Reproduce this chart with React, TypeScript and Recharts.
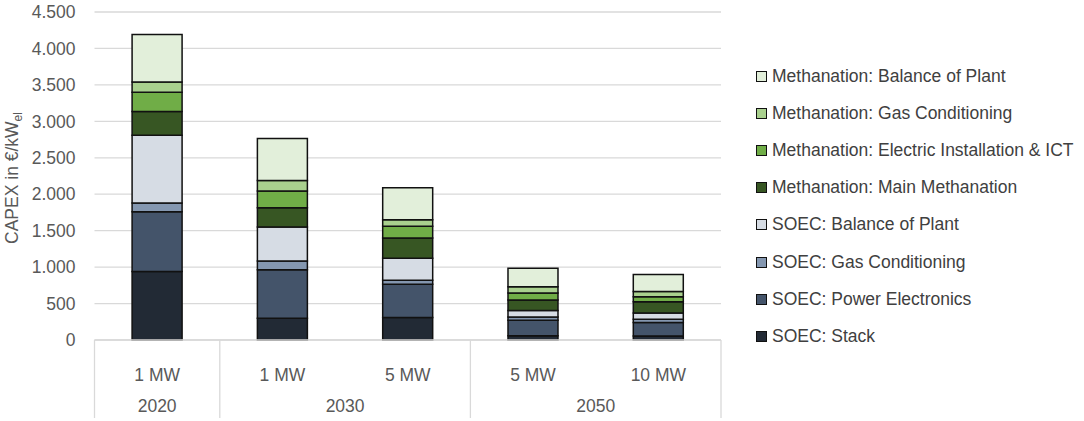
import { BarChart, Bar, XAxis, YAxis, CartesianGrid } from "recharts";

document.body.style.margin = "0";

const categories = ["1 MW", "1 MW", "5 MW", "5 MW", "10 MW"];
const years = ["2020", "2030", "2030", "2050", "2050"];

// €/kW_el
const soecStack = [940, 300, 310, 60, 55];
const soecPowerElectronics = [820, 665, 455, 210, 185];
const soecGasConditioning = [120, 120, 55, 45, 45];
const soecBalanceOfPlant = [930, 465, 300, 90, 85];
const methMain = [325, 265, 280, 145, 155];
const methElectric = [265, 228, 160, 95, 70];
const methGas = [140, 145, 90, 85, 70];
const methBalance = [650, 575, 440, 255, 235];

const yTicks = [0, 500, 1000, 1500, 2000, 2500, 3000, 3500, 4000, 4500];

const series = [
  { key: "soecStack", name: "SOEC: Stack", color: "#222a35", values: soecStack },
  { key: "soecPE", name: "SOEC: Power Electronics", color: "#44546a", values: soecPowerElectronics },
  { key: "soecGC", name: "SOEC: Gas Conditioning", color: "#8497b0", values: soecGasConditioning },
  { key: "soecBoP", name: "SOEC: Balance of Plant", color: "#d6dce4", values: soecBalanceOfPlant },
  { key: "methMain", name: "Methanation: Main Methanation", color: "#375623", values: methMain },
  { key: "methEI", name: "Methanation: Electric Installation & ICT", color: "#70ad47", values: methElectric },
  { key: "methGC", name: "Methanation: Gas Conditioning", color: "#a9d08e", values: methGas },
  { key: "methBoP", name: "Methanation: Balance of Plant", color: "#e2efda", values: methBalance },
];

const data = categories.map((size, i) => {
  const row: Record<string, string | number> = { id: `${years[i]}-${size}`, size, year: years[i] };
  series.forEach((s) => (row[s.key] = s.values[i]));
  return row;
});

const fmt = (v: number) =>
  v >= 1000 ? `${Math.floor(v / 1000)}.${String(v % 1000).padStart(3, "0")}` : String(v);

const FONT = "'Liberation Sans', Arial, sans-serif";
const FS = 17.5;
const GRAY = "#595959";
const LINE = "#d9d9d9";

function CategoryTick(props: any) {
  const { x, y, index, width } = props;
  const step = (width ?? 626) / categories.length;
  const year = years[index];
  const first = index === 0 || years[index - 1] !== year;
  let n = 0;
  for (let j = index; j < years.length && years[j] === year; j++) n++;
  const last = index === years.length - 1;
  return (
    <g>
      <text x={x} y={y + 41} textAnchor="middle" fill={GRAY} fontSize={FS} fontFamily={FONT}>
        {categories[index]}
      </text>
      {first && (
        <>
          <line x1={x - step / 2} x2={x - step / 2} y1={y} y2={y + 78} stroke={LINE} strokeWidth={1.3} />
          <text x={x + ((n - 1) * step) / 2} y={y + 72} textAnchor="middle" fill={GRAY} fontSize={FS} fontFamily={FONT}>
            {year}
          </text>
        </>
      )}
      {last && <line x1={x + step / 2} x2={x + step / 2} y1={y} y2={y + 78} stroke={LINE} strokeWidth={1.3} />}
    </g>
  );
}

function YLabel(props: any) {
  const vb = props.viewBox ?? { x: 0, y: 12, width: 94, height: 328 };
  const cx = 18;
  const cy = vb.y + vb.height / 2 + 2;
  return (
    <text
      x={cx}
      y={cy}
      transform={`rotate(-90, ${cx}, ${cy})`}
      textAnchor="middle"
      fill={GRAY}
      fontSize={FS}
      fontFamily={FONT}
    >
      <tspan>CAPEX in €/kW</tspan>
      <tspan dy={4} fontSize={12}>el</tspan>
    </text>
  );
}

function LegendList() {
  return (
    <div
      style={{
        position: "absolute",
        left: 756,
        top: 58,
        fontFamily: FONT,
        fontSize: FS,
        color: "#404040",
        whiteSpace: "nowrap",
      }}
    >
      {[...series].reverse().map((s) => (
        <div key={s.key} style={{ display: "flex", alignItems: "center", height: 37.1 }}>
          <span
            style={{
              display: "inline-block",
              width: 9,
              height: 9,
              background: s.color,
              border: "1px solid #111",
              marginRight: 5,
            }}
          />
          <span>{s.name}</span>
        </div>
      ))}
    </div>
  );
}

export default function App() {
  return (
    <div style={{ position: "relative", width: 1084, height: 421, background: "#fff" }}>
      <BarChart
        width={1084}
        height={421}
        data={data}
        margin={{ top: 12, right: 363, bottom: 0, left: 0 }}
        barCategoryGap="30%"
      >
        <CartesianGrid vertical={false} stroke={LINE} strokeWidth={1.3} />
        <YAxis
          domain={[0, 4500]}
          ticks={yTicks}
          tickFormatter={fmt}
          width={94.5}
          axisLine={false}
          tickLine={false}
          tickSize={0}
          tickMargin={19}
          tick={{ fill: GRAY, fontSize: FS, fontFamily: FONT }}
          label={<YLabel />}
        />
        <XAxis
          dataKey="id"
          height={81}
          interval={0}
          axisLine={{ stroke: LINE, strokeWidth: 1.3 }}
          tickLine={false}
          tickSize={0}
          tickMargin={0}
          tick={<CategoryTick />}
        />
        {series.map((s) => (
          <Bar
            key={s.key}
            dataKey={s.key}
            name={s.name}
            stackId="capex"
            fill={s.color}
            stroke="#111"
            strokeWidth={1.5}
            isAnimationActive={false}
          />
        ))}
      </BarChart>
      <LegendList />
    </div>
  );
}
